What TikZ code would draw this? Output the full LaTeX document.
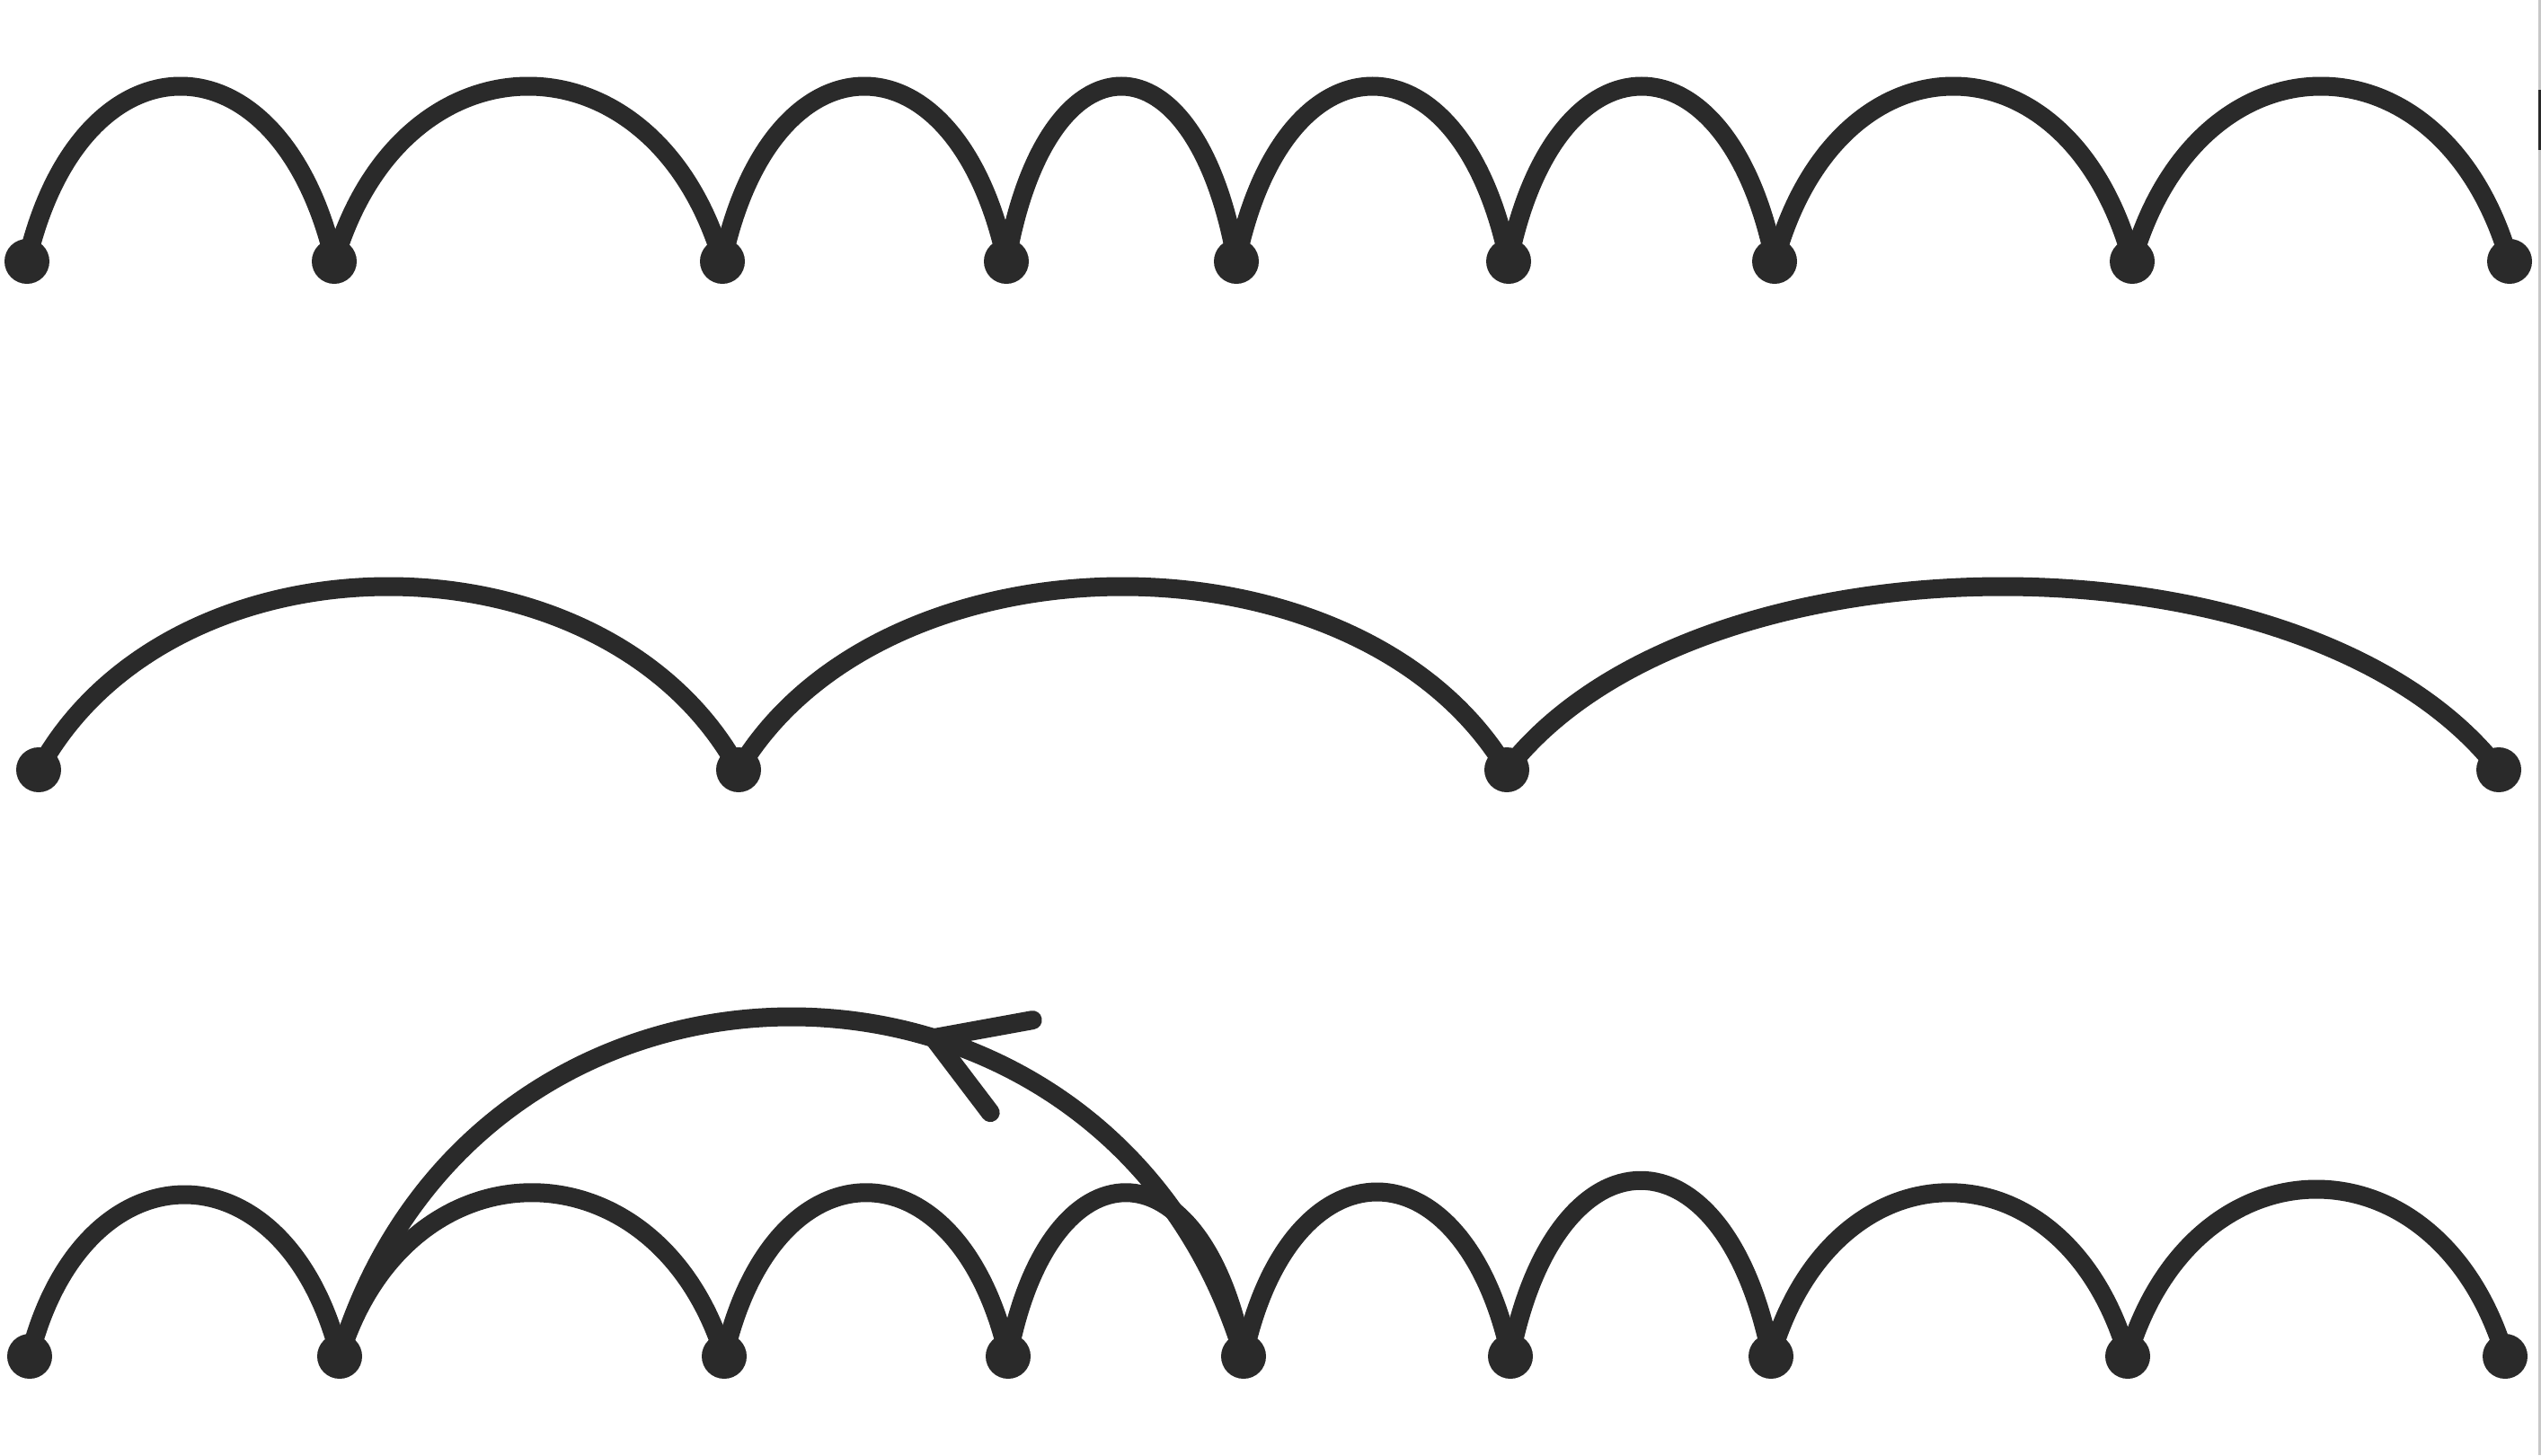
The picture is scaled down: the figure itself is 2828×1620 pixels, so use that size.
\documentclass[tikz,border=0pt]{standalone}
\usetikzlibrary{calc}
\definecolor{ink}{RGB}{42,42,42}
\tikzset{
  dot/.style={circle,fill=ink,draw=none,inner sep=0pt,minimum size=50pt},
  arcline/.style={draw=ink,line width=21pt},
  barb/.style={draw=ink,line width=21pt,line cap=round,line join=round},
  edgebar/.style={draw=black!22,line width=3pt},
}
\newcommand\myhop[4]{\draw[arcline] (#1.center) .. controls +(#3,-#4) and +(-#3,-#4) .. (#2.center);}
\begin{document}
\begin{tikzpicture}[x=1pt,y=-1pt]
\fill[white] (0,0) rectangle (2828,1620);
\useasboundingbox (0,0) rectangle (2828,1620);

% ---------- row 1 ----------
\node[dot] (r1a) at (30,291) {};
\node[dot] (r1b) at (372,291) {};
\node[dot] (r1c) at (804,291) {};
\node[dot] (r1d) at (1120,291) {};
\node[dot] (r1e) at (1376,291) {};
\node[dot] (r1f) at (1679,291) {};
\node[dot] (r1g) at (1975,291) {};
\node[dot] (r1h) at (2373,291) {};
\node[dot] (r1i) at (2793,291) {};
\myhop{r1a}{r1b}{60}{260}
\myhop{r1b}{r1c}{76}{260}
\myhop{r1c}{r1d}{55}{260}
\myhop{r1d}{r1e}{45}{260}
\myhop{r1e}{r1f}{53}{260}
\myhop{r1f}{r1g}{52}{260}
\myhop{r1g}{r1h}{70}{260}
\myhop{r1h}{r1i}{74}{260}

% ---------- row 2 ----------
\node[dot] (r2a) at (43,857) {};
\node[dot] (r2b) at (822,857) {};
\node[dot] (r2c) at (1677,857) {};
\node[dot] (r2d) at (2781,857) {};
\myhop{r2a}{r2b}{148}{272}
\myhop{r2b}{r2c}{162}{272}
\myhop{r2c}{r2d}{210}{272}

% ---------- row 3 ----------
\node[dot] (r3a) at (33,1510) {};
\node[dot] (r3b) at (378,1510) {};
\node[dot] (r3c) at (806,1510) {};
\node[dot] (r3d) at (1122,1510) {};
\node[dot] (r3e) at (1384,1510) {};
\node[dot] (r3f) at (1681,1510) {};
\node[dot] (r3g) at (1971,1510) {};
\node[dot] (r3h) at (2368,1510) {};
\node[dot] (r3i) at (2788,1510) {};
\myhop{r3a}{r3b}{60}{240}
\myhop{r3b}{r3c}{75}{243}
\myhop{r3c}{r3d}{55}{243}
\myhop{r3d}{r3e}{46}{243}
\myhop{r3e}{r3f}{52}{244}
\myhop{r3f}{r3g}{51}{261}
\myhop{r3g}{r3h}{70}{243}
\myhop{r3h}{r3i}{74}{248}

% long arc with arrowhead
\draw[arcline] (r3e.center) .. controls +(-151,-504) and +(151,-504) .. (r3b.center)
  coordinate[pos=0.375] (tip);
\draw[barb] ($(tip)+(110,-20)$) -- (tip) -- ($(tip)+(63,83)$);

% right edge bar
\coordinate (eT) at (2826.5,0);
\coordinate (eB) at (2826.5,1620);
\draw[edgebar] (eT) -- (eB);
\draw[draw=ink,line width=3pt] (2826.5,100) -- (2826.5,167);
\end{tikzpicture}
\end{document}
